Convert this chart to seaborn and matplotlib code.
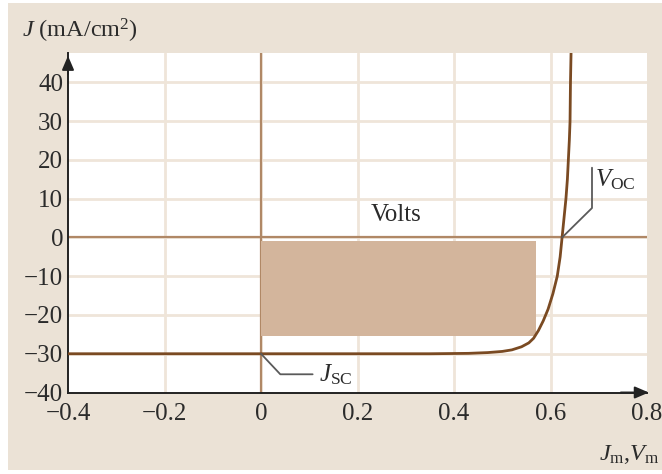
import numpy as np
import pandas as pd
import seaborn as sns
import matplotlib.pyplot as plt
from matplotlib.patches import Rectangle

# Solar-cell J-V characteristic (current density vs. voltage)
voltage = [-0.4, 0.0, 0.2, 0.35, 0.43, 0.47, 0.5, 0.52, 0.54, 0.555, 0.565,
           0.575, 0.585, 0.595, 0.605, 0.614, 0.62, 0.624, 0.628, 0.632,
           0.635, 0.637, 0.639, 0.6405, 0.6414, 0.6426]
current = [-30.0, -30.0, -30.0, -30.0, -29.9, -29.7, -29.4, -29.0, -28.2, -27.2, -26.0,
           -24.0, -21.5, -18.5, -14.5, -10.0, -5.0, 0.0, 5.0, 10.0,
           15.0, 20.0, 25.0, 30.0, 40.0, 47.6]

# Characteristic points
v_oc = 0.624          # open-circuit voltage
j_sc = -30.0          # short-circuit current density
v_m, j_m = 0.569, -25.4   # maximum power point
rect_top = -1.0

x_ticks = [-0.4, -0.2, 0, 0.2, 0.4, 0.6, 0.8]
x_tick_labels = ["\u22120.4", "\u22120.2", "0", "0.2", "0.4", "0.6", "0.8"]
y_ticks = [-40, -30, -20, -10, 0, 10, 20, 30, 40]
y_tick_labels = ["\u221240", "\u221230", "\u221220", "\u221210", "0", "10", "20", "30", "40"]

curve_color = "#7a4a22"
axis_line_color = "#b08866"
fill_color = "#d3b59c"
grid_color = "#efe5d9"
panel_color = "#ebe2d6"
text_color = "#2b2b2b"
leader_color = "#5a5a5a"

sns.set_theme(style="white")
plt.rcParams["font.family"] = ["Liberation Serif", "DejaVu Serif"]
plt.rcParams["mathtext.fontset"] = "custom"
plt.rcParams["mathtext.rm"] = "Liberation Serif"
plt.rcParams["mathtext.it"] = "Liberation Serif:italic"

fig = plt.figure(figsize=(6.62, 4.74), dpi=100, facecolor="white")
fig.patches.append(Rectangle((8 / 662, 4 / 474), 1 - 8 / 662, 1 - 7 / 474,
                             transform=fig.transFigure, facecolor=panel_color,
                             edgecolor="none", zorder=-10))

ax = fig.add_axes([68 / 662, (474 - 392.5) / 474, (647 - 68) / 662, (392.5 - 53) / 474])
ax.set_facecolor("white")

ax.set_xlim(-0.4, 0.8)
ax.set_ylim(-40, 47.6)

# light grid
for gx in x_ticks[1:-1]:
    ax.axvline(gx, color=grid_color, lw=2.0, zorder=0)
for gy in y_ticks[1:]:
    ax.axhline(gy, color=grid_color, lw=2.0, zorder=0)

# zero axes
ax.axhline(0, color=axis_line_color, lw=1.6, zorder=1)
ax.axvline(0, color=axis_line_color, lw=1.6, zorder=1)

# maximum power rectangle
ax.add_patch(Rectangle((0, j_m), v_m, rect_top - j_m, facecolor=fill_color,
                       edgecolor="none", zorder=2))

df = pd.DataFrame({"V": voltage, "J": current})
sns.lineplot(data=df, x="V", y="J", sort=False, color=curve_color, lw=2.0,
             ax=ax, zorder=3)

ax.set_xticks(x_ticks)
ax.set_xticklabels(x_tick_labels)
ax.set_yticks(y_ticks)
ax.set_yticklabels(y_tick_labels)
ax.tick_params(axis="both", length=0, labelsize=18, colors=text_color)
ax.tick_params(axis="x", pad=7.5)
ax.tick_params(axis="y", pad=3.5)
ax.set_xlabel("")
ax.set_ylabel("")

for side in ["top", "right"]:
    ax.spines[side].set_visible(False)
for side in ["left", "bottom"]:
    ax.spines[side].set_color("#222222")
    ax.spines[side].set_linewidth(1.4)

# axis arrows
ax.annotate("", xy=(0, 1.0), xytext=(0, 0.93), xycoords="axes fraction",
            arrowprops=dict(arrowstyle="-|>,head_length=0.7,head_width=0.3",
                            color="#222222", lw=1.4), annotation_clip=False)
ax.annotate("", xy=(1.008, 0), xytext=(0.95, 0), xycoords="axes fraction",
            arrowprops=dict(arrowstyle="-|>,head_length=0.7,head_width=0.3",
                            color="#222222", lw=1.4), annotation_clip=False)

# labels on the plot
ax.text(0.281, 5.8, "Volts", ha="center", va="center", fontsize=18, color=text_color)

ax.plot([v_oc, 0.686, 0.686], [0, 7.6, 18.0], color=leader_color, lw=1.3, zorder=4)
ax.text(0.693, 15.0, r"$V_{\rm OC}$", ha="left", va="center", fontsize=18,
        color=text_color)

ax.plot([0, 0.04, 0.107], [j_sc, -35.3, -35.3], color=leader_color, lw=1.3, zorder=4)
ax.text(0.12, -35.3, r"$J_{\rm SC}$", ha="left", va="center", fontsize=18,
        color=text_color)

fig.text(22 / 662, (474 - 31) / 474, r"$J$ (mA/cm$^2$)", ha="left", va="center",
         fontsize=17.5, color=text_color)
fig.text(659 / 662, (474 - 454) / 474, r"$J_{\rm m}$,$V_{\rm m}$", ha="right",
         va="center", fontsize=17.5, color=text_color)

fig.savefig("out.png", dpi=100, facecolor=fig.get_facecolor())
